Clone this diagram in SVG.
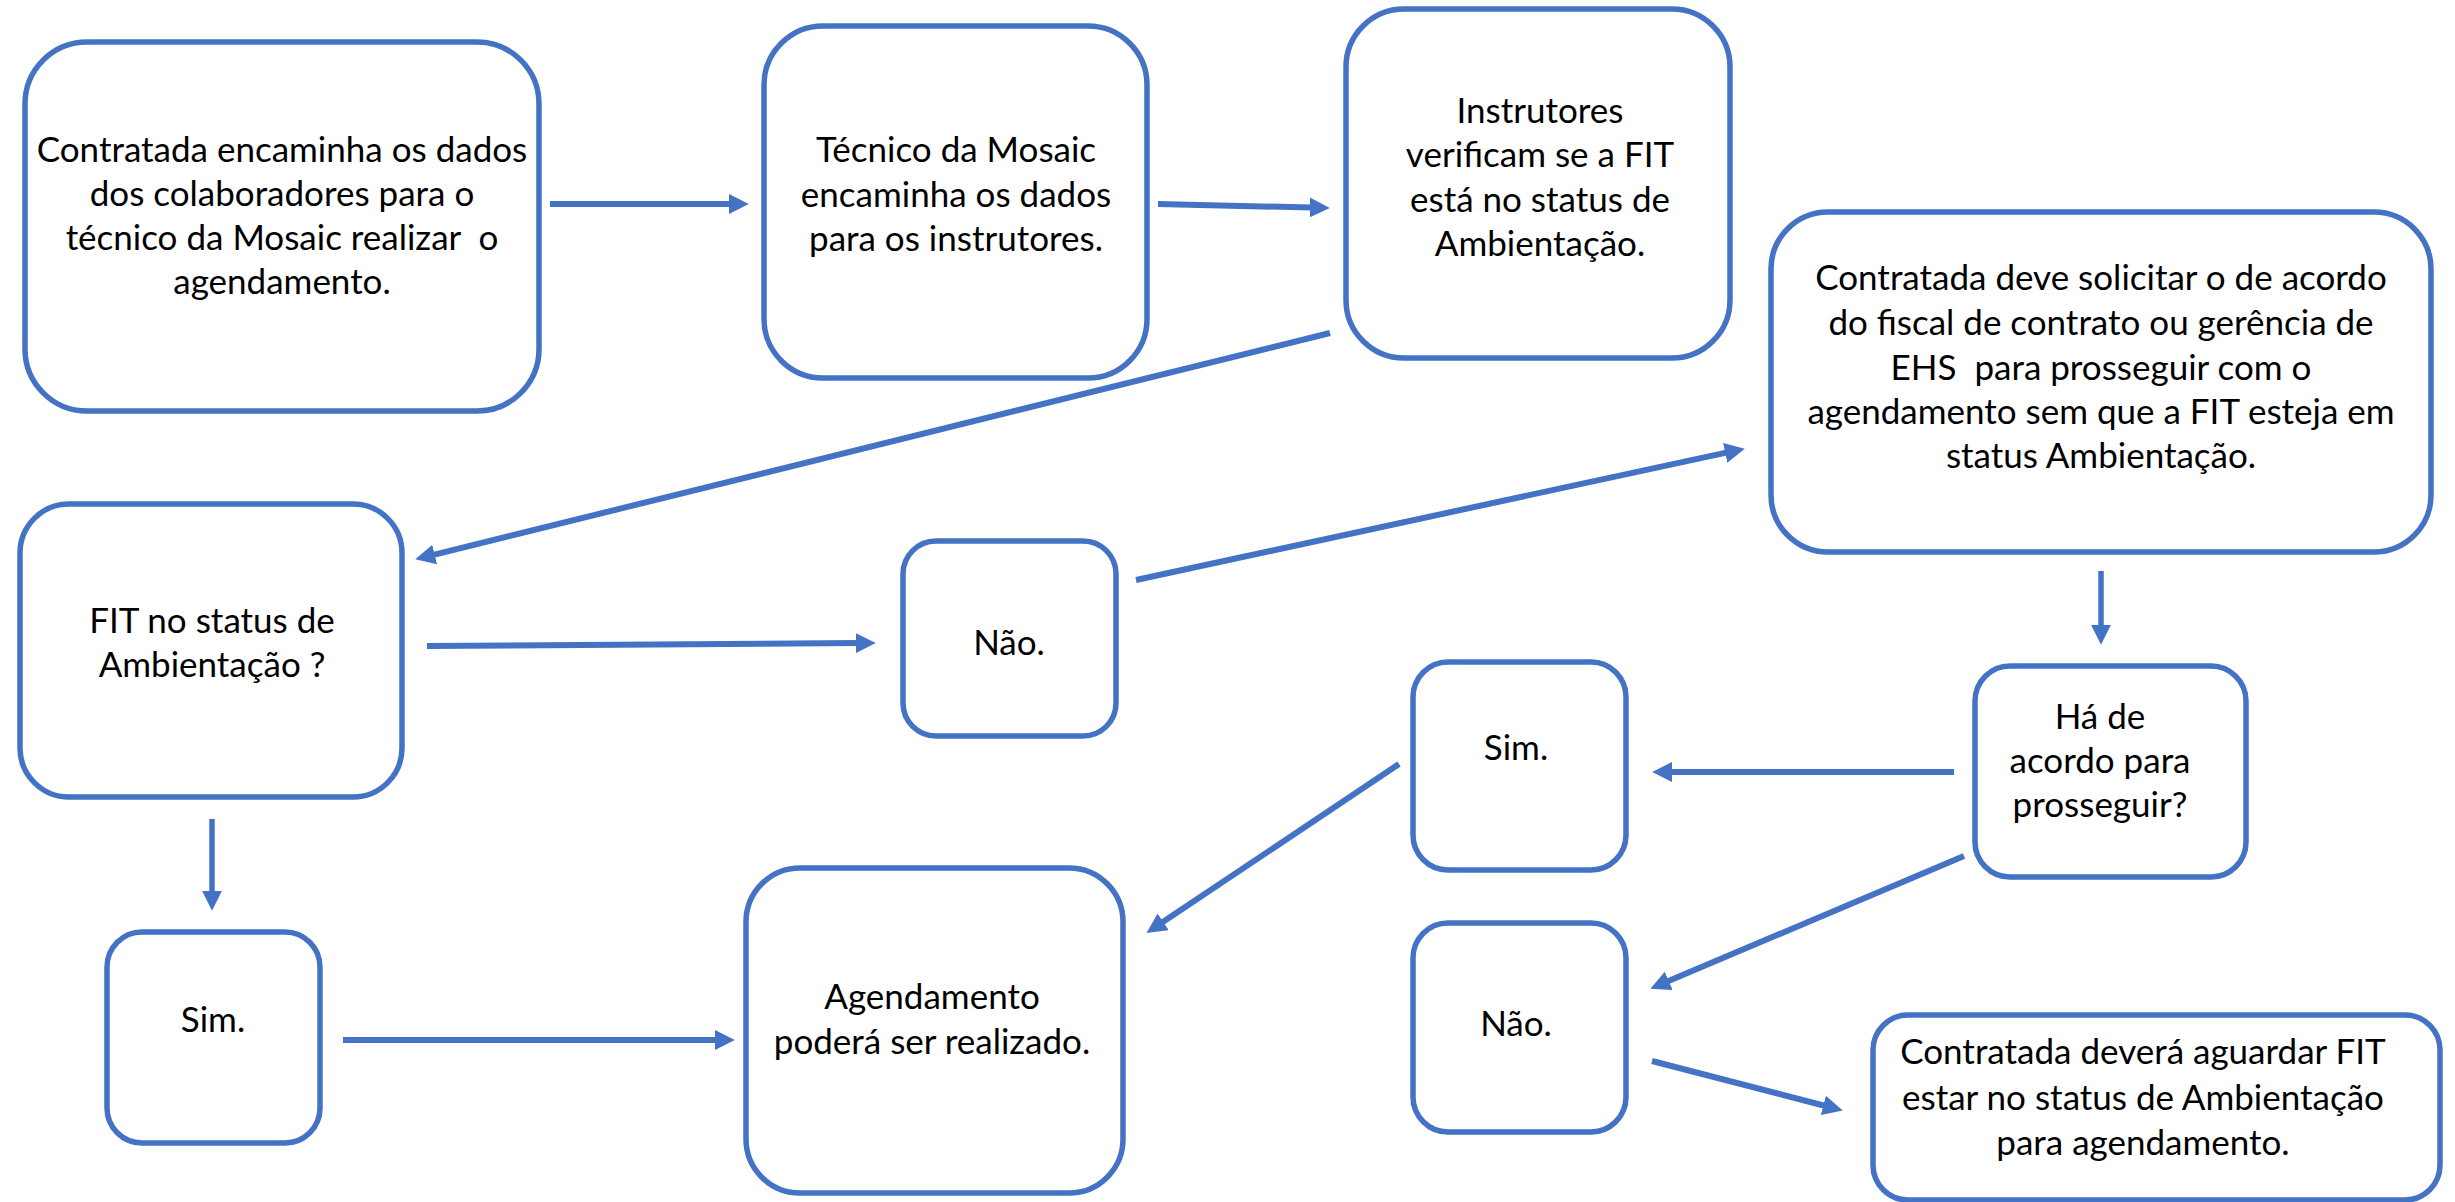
<svg xmlns="http://www.w3.org/2000/svg" width="2455" height="1202" viewBox="0 0 2455 1202">
<style>
.box{fill:#ffffff;stroke:#4472C4;stroke-width:5.5}
.t{font-family:Lato,"Open Sans","Liberation Sans",sans-serif;font-size:35px;fill:#000000;text-anchor:middle;white-space:pre}
.c{stroke:#4472C4;stroke-width:6;fill:none;marker-end:url(#ah)}
.c2{stroke:#4472C4;stroke-width:5.5;fill:none;marker-end:url(#ah)}
</style>
<defs>
<marker id="ah" markerUnits="userSpaceOnUse" markerWidth="20" markerHeight="20" refX="2" refY="9" orient="auto" viewBox="0 0 18 18">
<path d="M0,0 L18,9 L0,18 z" fill="#4472C4"/>
</marker>
</defs>
<rect width="2455" height="1202" fill="#ffffff"/>
<g id="n1"><rect class="box" x="25" y="42" width="514" height="369" rx="62"/>
<text class="t" x="282" y="162">Contratada encaminha os dados</text>
<text class="t" x="282" y="206">dos colaboradores para o</text>
<text class="t" x="282" y="250">técnico da Mosaic realizar  o</text>
<text class="t" x="282" y="294">agendamento.</text></g>
<g id="n2"><rect class="box" x="764" y="26" width="383" height="352" rx="59"/>
<text class="t" x="956" y="162">Técnico da Mosaic</text>
<text class="t" x="956" y="207">encaminha os dados</text>
<text class="t" x="956" y="251">para os instrutores.</text></g>
<g id="n3"><rect class="box" x="1346" y="9" width="384" height="349" rx="58"/>
<text class="t" x="1540" y="123">Instrutores</text>
<text class="t" x="1540" y="167">verificam se a FIT</text>
<text class="t" x="1540" y="212">está no status de</text>
<text class="t" x="1540" y="256">Ambientação.</text></g>
<g id="n4"><rect class="box" x="1771" y="212" width="660" height="340" rx="57"/>
<text class="t" x="2101" y="290">Contratada deve solicitar o de acordo</text>
<text class="t" x="2101" y="335">do fiscal de contrato ou gerência de</text>
<text class="t" x="2101" y="380">EHS  para prosseguir com o</text>
<text class="t" x="2101" y="424">agendamento sem que a FIT esteja em</text>
<text class="t" x="2101" y="468">status Ambientação.</text></g>
<g id="n5"><rect class="box" x="20" y="504" width="382" height="293" rx="49"/>
<text class="t" x="212" y="633">FIT no status de</text>
<text class="t" x="212" y="677">Ambientação ?</text></g>
<g id="n6"><rect class="box" x="903" y="541" width="213" height="195" rx="33"/>
<text class="t" x="1009" y="655">Não.</text></g>
<g id="n7"><rect class="box" x="107" y="932" width="213" height="211" rx="35"/>
<text class="t" x="213" y="1032">Sim.</text></g>
<g id="n8"><rect class="box" x="746" y="868" width="377" height="325" rx="54"/>
<text class="t" x="932" y="1009">Agendamento</text>
<text class="t" x="932" y="1054">poderá ser realizado.</text></g>
<g id="n9"><rect class="box" x="1413" y="662" width="213" height="208" rx="35"/>
<text class="t" x="1516" y="760">Sim.</text></g>
<g id="n10"><rect class="box" x="1975" y="666" width="271" height="211" rx="35"/>
<text class="t" x="2100" y="729">Há de</text>
<text class="t" x="2100" y="773">acordo para</text>
<text class="t" x="2100" y="817">prosseguir?</text></g>
<g id="n11"><rect class="box" x="1413" y="923" width="213" height="209" rx="35"/>
<text class="t" x="1516" y="1036">Não.</text></g>
<g id="n12"><rect class="box" x="1873" y="1015" width="567" height="185" rx="35"/>
<text class="t" x="2143" y="1064">Contratada deverá aguardar FIT</text>
<text class="t" x="2143" y="1110">estar no status de Ambientação</text>
<text class="t" x="2143" y="1155">para agendamento.</text></g>
<g id="connectors">
<line class="c" x1="550" y1="204" x2="731" y2="204"/>
<line class="c" x1="1158" y1="204" x2="1312" y2="207.6"/>
<line class="c" x1="1330" y1="333" x2="432.5" y2="555.1"/>
<line class="c" x1="427" y1="646" x2="858" y2="643.1"/>
<line class="c" x1="1136" y1="580" x2="1727.4" y2="452.4"/>
<line class="c2" x1="2101" y1="571" x2="2101" y2="627"/>
<line class="c2" x1="212" y1="819" x2="212" y2="893"/>
<line class="c" x1="343" y1="1040" x2="717" y2="1040"/>
<line class="c" x1="1954" y1="772" x2="1670" y2="772"/>
<line class="c" x1="1399" y1="764" x2="1161.3" y2="923.1"/>
<line class="c" x1="1964" y1="856" x2="1666.7" y2="981.8"/>
<line class="c" x1="1652" y1="1061" x2="1825.5" y2="1106"/>
</g>
</svg>
